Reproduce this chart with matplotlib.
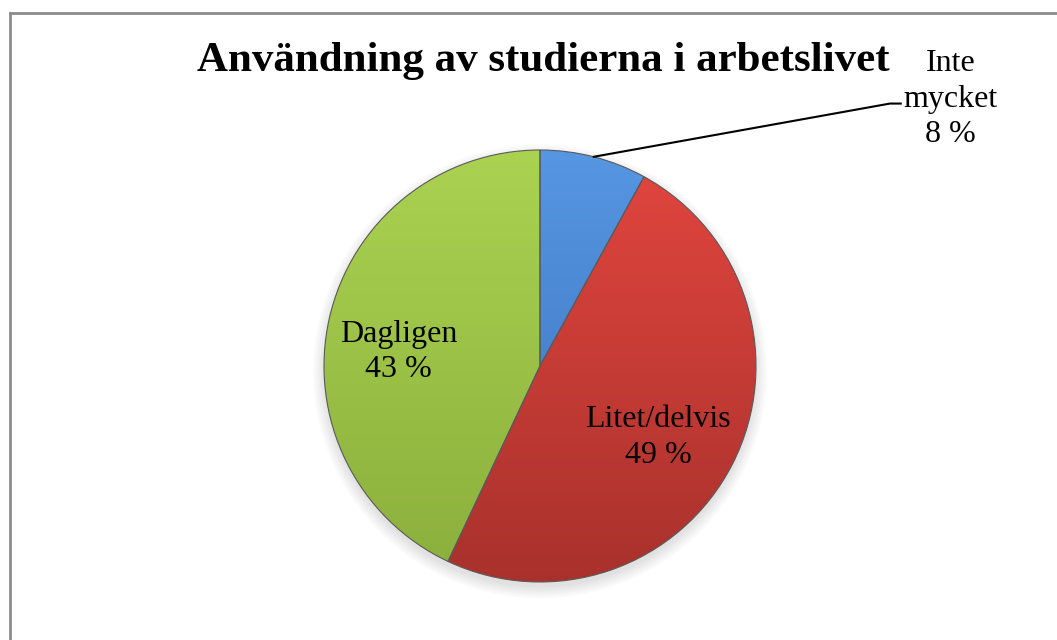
import matplotlib.pyplot as plt
import numpy as np
from matplotlib.colors import LinearSegmentedColormap
from matplotlib.lines import Line2D
from matplotlib.patches import Circle

plt.rcParams['font.family'] = ['Liberation Serif', 'DejaVu Serif']

title = 'Användning av studierna i arbetslivet'
labels = ['Inte\nmycket', 'Litet/delvis', 'Dagligen']
values = [8, 49, 43]
top_colors = ['#5696E2', '#E2463F', '#ABD251']
bottom_colors = ['#3B70BA', '#A9312C', '#8BAF3C']

W, H = 1057, 640
fig = plt.figure(figsize=(W / 100, H / 100), dpi=100)

# frame (only top and left edge visible in the crop)
fig.add_artist(Line2D([10 / W, 10 / W], [0, 1 - 13 / H], color='#8c8c8c', lw=2))
fig.add_artist(Line2D([10 / W, 1], [1 - 13 / H, 1 - 13 / H], color='#8c8c8c', lw=2))

fig.text(543 / W, 1 - 61 / H, title, ha='center', va='center',
         fontsize=31, fontweight='bold')

cx, cy, r = 540, 366, 216
ax = fig.add_axes([(cx - r) / W, (H - cy - r) / H, 2 * r / W, 2 * r / H])

# soft shadow
for k in range(6):
    ax.add_patch(Circle((0.0, -0.025), 1.0 + 0.01 * k, color='black',
                        alpha=0.02, lw=0, zorder=0, clip_on=False))

wedges, _ = ax.pie(values, startangle=90, counterclock=False, radius=1,
                   wedgeprops=dict(linewidth=0.8, edgecolor='#5a5a5a'))

grad = np.linspace(0, 1, 256).reshape(-1, 1)
for w, c0, c1 in zip(wedges, top_colors, bottom_colors):
    cmap = LinearSegmentedColormap.from_list('g', [c1, c0])
    im = ax.imshow(grad, extent=[-1, 1, -1, 1], origin='lower', cmap=cmap,
                   aspect='auto', zorder=1)
    im.set_clip_path(w)
    w.set_facecolor('none')
    w.set_zorder(2)

ax.set_xlim(-1, 1)
ax.set_ylim(-1, 1)
ax.axis('off')

# label centres in pie-radius units
label_pos = [(1.90, 1.235), (0.546, -0.33), (-0.655, 0.065)]

for i, (w, lab, v) in enumerate(zip(wedges, labels, values)):
    txt = f'{lab}\n{v} %'
    if i == 0:
        ang = np.deg2rad((w.theta1 + w.theta2) / 2)
        ex, ey = np.cos(ang), np.sin(ang)
        ax.plot([ex, 1.62, 1.67], [ey, 1.215, 1.215], color='black', lw=1.5,
                clip_on=False, zorder=3)
    ax.text(*label_pos[i], txt, ha='center', va='center', fontsize=23,
            linespacing=1.3, zorder=4)

fig.savefig('out.png', dpi=100)
